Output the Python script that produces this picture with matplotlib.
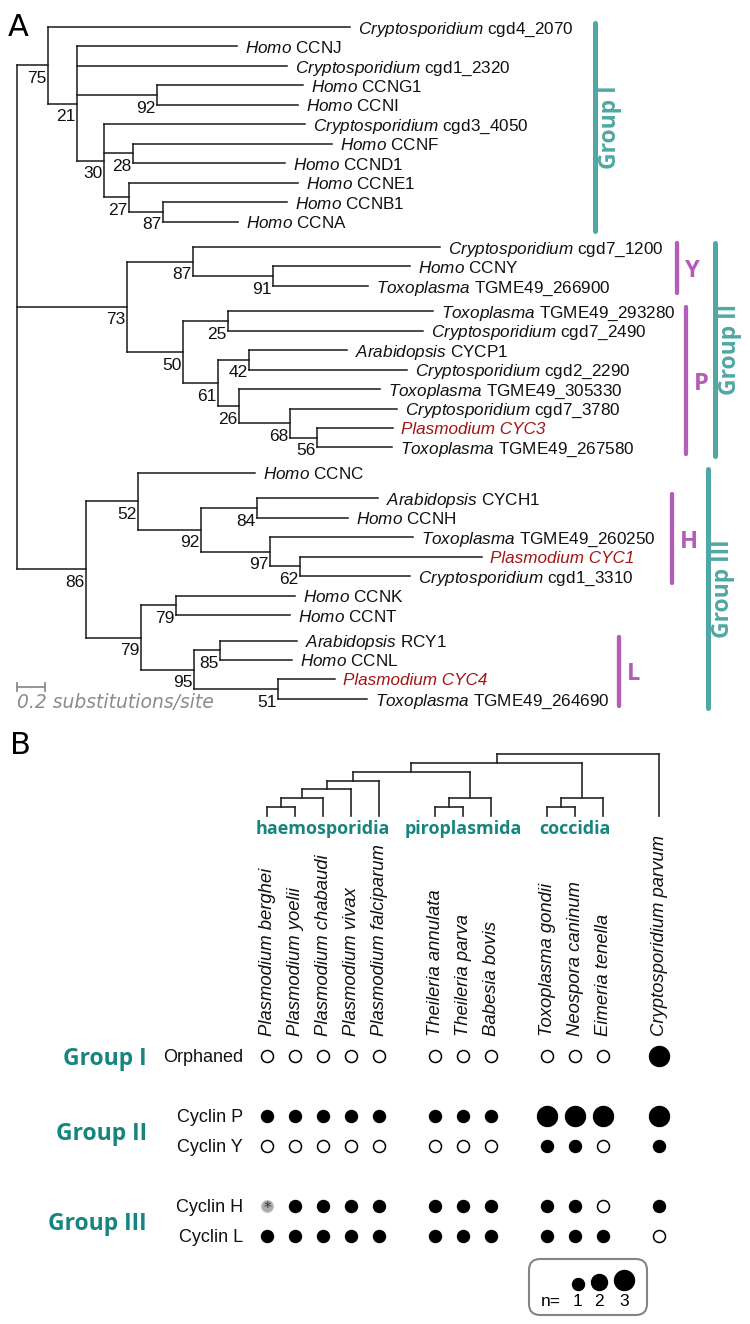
import matplotlib
matplotlib.use("Agg")
import matplotlib.pyplot as plt
from matplotlib.patches import FancyBboxPatch
from matplotlib import font_manager

W, H, DPI = 750, 1324, 100
PT = 72 / DPI  # points per pixel

plt.rcParams['mathtext.fontset'] = 'custom'
plt.rcParams['mathtext.rm'] = 'Liberation Sans'
plt.rcParams['mathtext.it'] = 'Liberation Sans:italic'

available = {f.name for f in font_manager.fontManager.ttflist}
SANS = 'Liberation Sans'
NARROW = 'Liberation Sans Narrow' if 'Liberation Sans Narrow' in available else SANS
BOLD = 'Open Sans' if 'Open Sans' in available else 'DejaVu Sans'

TEAL_A = '#4fa8a5'
TEAL_B = '#17857f'
PURPLE = '#b35cb8'
RED = '#a31515'

# ---------------- panel A: cyclin tree ----------------
# leaf = (genus, gene, branch length); node = ([children], branch length, bootstrap)
group1 = ([
    ('Cryptosporidium', 'cgd4_2070', 2.134),
    ([('Homo', 'CCNJ', 1.131),
      ('Cryptosporidium', 'cgd1_2320', 1.484),
      ([('Homo', 'CCNG1', 1.032), ('Homo', 'CCNI', 0.996)], 0.565, 92),
      ([('Cryptosporidium', 'cgd3_4050', 1.420),
        ([('Homo', 'CCNF', 1.406), ('Homo', 'CCND1', 1.074)], 0.205, 28),
        ([('Homo', 'CCNE1', 1.194),
          ([('Homo', 'CCNB1', 0.876), ('Homo', 'CCNA', 0.530)], 0.240, 87)], 0.177, 27)],
       0.191, 30)],
     0.205, 21)],
    0.219, 75)

group2 = ([
    ([('Cryptosporidium', 'cgd7_1200', 1.746),
      ([('Homo', 'CCNY', 0.968), ('Toxoplasma', 'TGME49_266900', 0.671)], 0.565, 91)],
     0.466, 87),
    ([([('Toxoplasma', 'TGME49_293280', 1.449), ('Cryptosporidium', 'cgd7_2490', 1.378)], 0.318, 25),
      ([([('Arabidopsis', 'CYCP1', 0.693), ('Cryptosporidium', 'cgd2_2290', 1.117)], 0.219, 42),
        ([('Toxoplasma', 'TGME49_305330', 0.996),
          ([('Cryptosporidium', 'cgd7_3780', 0.756),
            ([('Plasmodium', 'CYC3', 0.537), ('Toxoplasma', 'TGME49_267580', 0.530)], 0.191, 56)],
           0.360, 68)],
         0.148, 26)],
       0.247, 61)],
     0.396, 50)],
    0.777, 73)

group3 = ([
    ([('Homo', 'CCNC', 0.827),
      ([([('Arabidopsis', 'CYCH1', 0.855), ('Homo', 'CCNH', 0.643)], 0.396, 84),
        ([('Toxoplasma', 'TGME49_260250', 1.011),
          ([('Plasmodium', 'CYC1', 1.286), ('Cryptosporidium', 'cgd1_3310', 0.777)], 0.212, 62)],
         0.488, 97)],
       0.445, 92)],
     0.367, 52),
    ([([('Homo', 'CCNK', 0.841), ('Homo', 'CCNT', 0.806)], 0.247, 79),
      ([([('Arabidopsis', 'RCY1', 0.544), ('Homo', 'CCNL', 0.509)], 0.184, 85),
        ([('Plasmodium', 'CYC4', 0.403), ('Toxoplasma', 'TGME49_264690', 0.629)], 0.594, 51)],
       0.375, 95)],
     0.389, 79)],
    0.488, 86)

cyclin_tree = ([group1, group2, group3], 0.0, None)

gap_after = {'CCNA', 'TGME49_266900', 'TGME49_267580', 'CCNC', 'CCNT'}

group_bars = [('Group I', 'cgd4_2070', 'CCNA'),
              ('Group II', 'cgd7_1200', 'TGME49_267580'),
              ('Group III', 'CCNC', 'TGME49_264690')]
subfamily_bars = [('Y', 'cgd7_1200', 'TGME49_266900'),
                  ('P', 'TGME49_293280', 'TGME49_267580'),
                  ('H', 'CYCH1', 'cgd1_3310'),
                  ('L', 'RCY1', 'TGME49_264690')]

# ---------------- panel B: species tree and cyclin counts ----------------
species = ['Plasmodium berghei', 'Plasmodium yoelii', 'Plasmodium chabaudi',
           'Plasmodium vivax', 'Plasmodium falciparum',
           'Theileria annulata', 'Theileria parva', 'Babesia bovis',
           'Toxoplasma gondii', 'Neospora caninum', 'Eimeria tenella',
           'Cryptosporidium parvum']
species_clade = [0, 0, 0, 0, 0, 1, 1, 1, 2, 2, 2, 3]
clade_names = ['haemosporidia', 'piroplasmida', 'coccidia']
species_tree = (((((((0, 1), 2), 3), 4), ((5, 6), 7)), ((8, 9), 10)), 11)

row_labels = ['Orphaned', 'Cyclin P', 'Cyclin Y', 'Cyclin H', 'Cyclin L']
row_groups = [('Group I', [0]), ('Group II', [1, 2]), ('Group III', [3, 4])]
# number of cyclins per species; -1 = uncertain (grey, asterisk)
orphaned = [0, 0, 0, 0, 0, 0, 0, 0, 0, 0, 0, 3]
cyclin_p = [1, 1, 1, 1, 1, 1, 1, 1, 3, 3, 3, 3]
cyclin_y = [0, 0, 0, 0, 0, 0, 0, 0, 1, 1, 0, 1]
cyclin_h = [-1, 1, 1, 1, 1, 1, 1, 1, 1, 1, 0, 1]
cyclin_l = [1, 1, 1, 1, 1, 1, 1, 1, 1, 1, 1, 0]
counts = [orphaned, cyclin_p, cyclin_y, cyclin_h, cyclin_l]
legend_n = [1, 2, 3]

# ---------------- figure ----------------
fig = plt.figure(figsize=(W / DPI, H / DPI), dpi=DPI)
ax = fig.add_axes([0, 0, 1, 1])
ax.set_xlim(0, W)
ax.set_ylim(H, 0)
ax.axis('off')


def seg(x0, x1, y0, y1, color='#1a1a1a', lw=1.1):
    ax.plot([x0, x1], [y0, y1], color=color, lw=lw, solid_capstyle='projecting')


# layout of panel A
X_ROOT, PX_PER_SUB = 17, 141.5
LEAF_TOP, LEAF_STEP, LEAF_GAP = 27, 19.45, 6.0
leaf_y = {}
counter = {'i': 0, 'gaps': 0}


def place(node, x0):
    if isinstance(node[0], str):
        genus, gene, blen = node
        x1 = x0 + blen * PX_PER_SUB
        y = LEAF_TOP + LEAF_STEP * counter['i'] + LEAF_GAP * counter['gaps']
        counter['i'] += 1
        if gene in gap_after:
            counter['gaps'] += 1
        leaf_y[gene] = y
        seg(x0, x1, y, y)
        if genus == 'Plasmodium':
            ax.text(x1 + 8, y, f'{genus} {gene}', color=RED, style='italic',
                    family=SANS, fontsize=12.3, va='center_baseline', ha='left')
        else:
            ax.text(x1 + 8, y, r'$\mathit{' + genus + '}$ ' + gene, color='#111111',
                    family=SANS, fontsize=12.3, va='center_baseline', ha='left')
        return y
    kids, blen, support = node
    x1 = x0 + blen * PX_PER_SUB
    ys = [place(k, x1) for k in kids]
    y = (ys[0] + ys[-1]) / 2
    seg(x1, x1, ys[0], ys[-1])
    if blen > 0:
        seg(x0, x1, y, y)
    if support is not None:
        ax.text(x1 - 1.5, y + 11.5, str(support), family=SANS, fontsize=12.5,
                ha='right', va='center_baseline', color='#111111')
    return y


place(cyclin_tree, X_ROOT)

# scale bar
sb_y, sb_x0 = 687, 17
sb_x1 = sb_x0 + 0.2 * PX_PER_SUB
seg(sb_x0, sb_x1, sb_y, sb_y, color='#8c8c8c', lw=1.3)
seg(sb_x0, sb_x0, sb_y - 4, sb_y + 4, color='#8c8c8c', lw=1.3)
seg(sb_x1, sb_x1, sb_y - 4, sb_y + 4, color='#8c8c8c', lw=1.3)
ax.text(sb_x0, 702, '0.2 substitutions/site', family='DejaVu Sans', style='italic',
        fontsize=13.5, color='#8c8c8c', ha='left', va='center')

# group bars
group_bar_x = [595, 715, 708]
for (name, first, last), bx in zip(group_bars, group_bar_x):
    y0, y1 = leaf_y[first] - 4, leaf_y[last] + 9
    ax.plot([bx, bx], [y0, y1], color=TEAL_A, lw=3.6, solid_capstyle='round')
    ax.text(bx + 15, (y0 + y1) / 2, name, rotation=90, family=BOLD, weight='bold',
            fontsize=16.5, color=TEAL_A, ha='center', va='center')

sub_bar_x = [677, 686, 672, 619]
for (name, first, last), bx in zip(subfamily_bars, sub_bar_x):
    y0, y1 = leaf_y[first] - 4, leaf_y[last] + 7
    ax.plot([bx, bx], [y0, y1], color=PURPLE, lw=3.1, solid_capstyle='round')
    ax.text(bx + 8, (y0 + y1) / 2, name, family=BOLD, weight='bold',
            fontsize=17, color=PURPLE, ha='left', va='center_baseline')

ax.text(8, 27, 'A', family='DejaVu Sans', fontsize=22, ha='left', va='center')
ax.text(10, 746, 'B', family='DejaVu Sans', fontsize=22, ha='left', va='center')

# ---------------- panel B layout ----------------
COL_X0, COL_STEP = 267, 28
col_x = [COL_X0 + COL_STEP * (i + c) for i, c in enumerate(species_clade)]
TIP_Y, LEVEL = 816, 8.86


def draw_species(node):
    """returns (x, y, height) of node"""
    if isinstance(node, int):
        return col_x[node], TIP_Y, 0
    kids = [draw_species(k) for k in node]
    height = max(k[2] for k in kids) + 1
    y = TIP_Y - LEVEL * height
    xs = [k[0] for k in kids]
    seg(xs[0], xs[-1], y, y, color='#262626', lw=1.2)
    for kx, ky, _ in kids:
        seg(kx, kx, y, ky, color='#262626', lw=1.2)
    return sum(xs) / len(xs), y, height


draw_species(species_tree)

for c, cname in enumerate(clade_names):
    xs = [col_x[i] for i, sc in enumerate(species_clade) if sc == c]
    ax.text((min(xs) + max(xs)) / 2, 829, cname, family=BOLD, weight='bold',
            fontsize=13, color=TEAL_B, ha='center', va='center')

for name, x in zip(species, col_x):
    ax.text(x + 1, 1036, name, rotation=90, family=SANS, style='italic',
            fontsize=13.3, ha='center', va='bottom', color='#111111')

ROW_Y0, ROW_STEP = 1056, 30
row_slot = [0, 2, 3, 5, 6]
row_y = [ROW_Y0 + ROW_STEP * s for s in row_slot]


def diam(n):
    return 8 + 4 * n


for r, (label, vals) in enumerate(zip(row_labels, counts)):
    y = row_y[r]
    ax.text(243, y, label, family=NARROW, fontsize=13, ha='right',
            va='center_baseline', color='#111111')
    for x, n in zip(col_x, vals):
        if n == 0:
            ax.scatter([x], [y], s=(12 * PT) ** 2, facecolor='white',
                       edgecolor='black', linewidths=1.1, zorder=3)
        elif n < 0:
            ax.scatter([x], [y], s=(12 * PT) ** 2, facecolor='#a9a9a9',
                       edgecolor='#c8c8c8', linewidths=0.8, zorder=3)
            ax.text(x, y + 3, '*', fontsize=11, ha='center', va='center',
                    color='#333333', zorder=4)
        else:
            ax.scatter([x], [y], s=(diam(n) * PT) ** 2, color='black', zorder=3)

for gname, rows in row_groups:
    y = sum(row_y[r] for r in rows) / len(rows)
    ax.text(147, y, gname, family=BOLD, weight='bold', fontsize=16.5,
            color=TEAL_B, ha='right', va='center_baseline')

# legend
box = FancyBboxPatch((529, 1259), 118, 56, boxstyle='round,pad=0,rounding_size=11',
                     facecolor='white', edgecolor='#858585', lw=1.5, zorder=2)
ax.add_patch(box)
leg_x = [578, 599, 624]
for n, x in zip(legend_n, leg_x):
    d = diam(n)
    ax.scatter([x], [1290 - d / 2], s=(d * PT) ** 2, color='black', zorder=3)
    ax.text(x, 1300, str(n), family=NARROW, fontsize=12.5, ha='center',
            va='center_baseline', zorder=3)
ax.text(551, 1300, 'n=', family=NARROW, fontsize=12.5, ha='center',
        va='center_baseline', zorder=3)

fig.savefig('out.png', dpi=DPI)
